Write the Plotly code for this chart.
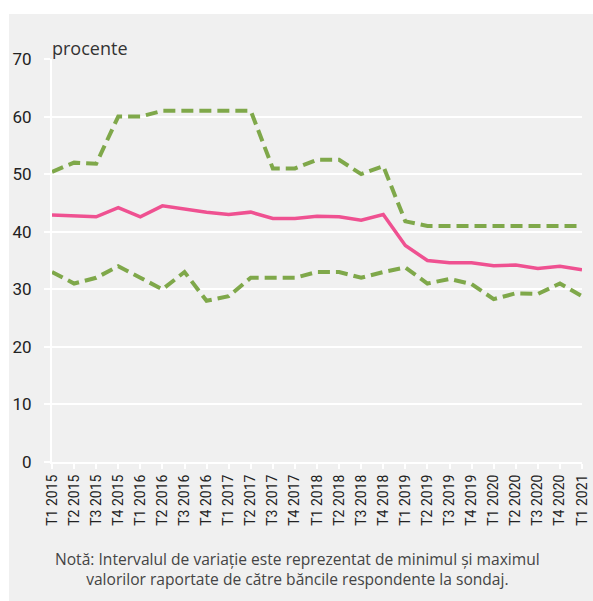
import plotly.graph_objects as go

quarters = ["T1 2015", "T2 2015", "T3 2015", "T4 2015",
            "T1 2016", "T2 2016", "T3 2016", "T4 2016",
            "T1 2017", "T2 2017", "T3 2017", "T4 2017",
            "T1 2018", "T2 2018", "T3 2018", "T4 2018",
            "T1 2019", "T2 2019", "T3 2019", "T4 2019",
            "T1 2020", "T2 2020", "T3 2020", "T4 2020",
            "T1 2021"]

medie = [42.9, 42.8, 42.6, 44.2, 42.6, 44.5, 43.9, 43.4, 43.0, 43.4, 42.3, 42.3,
         42.7, 42.6, 42.0, 43.0, 37.6, 35.0, 34.6, 34.6, 34.1, 34.2, 33.6, 34.0, 33.4]
maxim = [50.4, 52.0, 51.8, 60, 60, 61, 61, 61, 61, 61, 51, 51,
         52.5, 52.5, 50, 51.4, 41.8, 41, 41, 41, 41, 41, 41, 41, 41]
minim = [33, 31, 32, 34, 32, 30, 33, 28, 28.8, 32, 32, 32,
         33, 33, 32, 33, 33.8, 31, 31.8, 30.9, 28.3, 29.3, 29.2, 31, 28.8]

GREEN = "#7fa84a"
PINK = "#ef5191"
BG = "#f0f0f0"
COND = "Roboto, DejaVu Sans Condensed, sans-serif"
REG = "Open Sans, Noto Sans, sans-serif"

W, H = 593, 601
PL, PR, PT, PB = 52, 582, 59, 462      # plot area in pixels
L, T, R, B = PL, PT, W - PR, H - PB
pw, ph = PR - PL, PB - PT


def px_x(p):
    return (p - PL) / pw


def px_y(p):
    return (PB - p) / ph


fig = go.Figure()
fig.add_trace(go.Scatter(x=quarters, y=maxim, mode="lines",
                         line=dict(color=GREEN, width=4, dash="12px,6px"), name="maxim"))
fig.add_trace(go.Scatter(x=quarters, y=minim, mode="lines",
                         line=dict(color=GREEN, width=4, dash="12px,6px"), name="minim"))
fig.add_trace(go.Scatter(x=quarters, y=medie, mode="lines",
                         line=dict(color=PINK, width=3.5), name="medie"))

fig.add_shape(type="rect", xref="paper", yref="paper", layer="below",
              x0=px_x(9), x1=px_x(W + 5), y0=px_y(H + 5), y1=px_y(14),
              fillcolor=BG, line=dict(width=0))

fig.add_annotation(text="procente", xref="paper", yref="paper", x=px_x(50), y=px_y(48),
                   xanchor="left", yanchor="middle", showarrow=False,
                   font=dict(family=REG, size=18, color="#333333"))
fig.add_annotation(text="Notă: Intervalul de variație este reprezentat de minimul și maximul<br>"
                        "valorilor raportate de către băncile respondente la sondaj.",
                   xref="paper", yref="paper", x=px_x(297), y=px_y(569),
                   xanchor="center", yanchor="middle", showarrow=False, align="center",
                   font=dict(family=REG, size=15.6, color="#444444"))

fig.update_layout(
    width=W, height=H,
    margin=dict(l=L, r=R, t=T, b=B, pad=0, autoexpand=False),
    paper_bgcolor="white", plot_bgcolor="rgba(0,0,0,0)",
    showlegend=False,
    xaxis=dict(type="category", range=[0, 24], showgrid=False, zeroline=False,
               automargin=False,
               showline=True, linecolor="white", linewidth=2,
               ticks="outside", ticklen=5, tickwidth=2, tickcolor="white",
               tickangle=-90, tickfont=dict(family=COND, size=14, color="#222222")),
    yaxis=dict(range=[0, 70], dtick=10, showgrid=True, gridcolor="white", gridwidth=2,
               zeroline=False, showline=True, linecolor="white", linewidth=2,
               automargin=False,
               ticks="outside", ticklen=6, tickwidth=2, tickcolor="white",
               ticklabelstandoff=9,
               tickfont=dict(family=COND, size=17, color="#222222")),
)

fig.write_html("out.html",
               config={"displayModeBar": False},
               post_script="document.body.style.margin='0';"
                           "document.body.style.overflow='hidden';")
